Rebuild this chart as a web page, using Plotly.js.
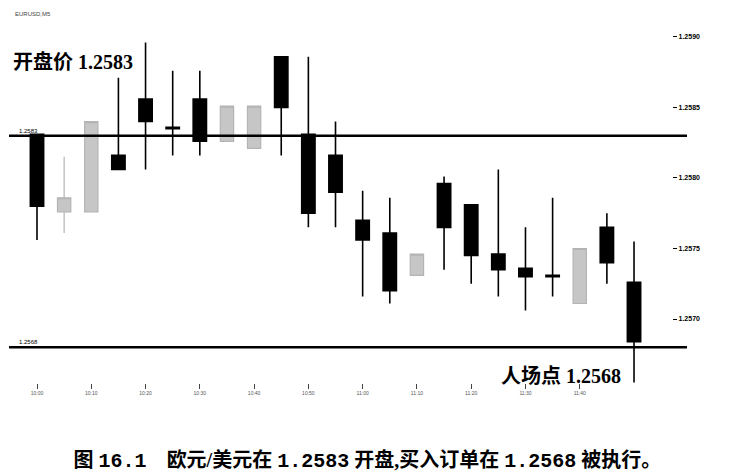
<!DOCTYPE html>
<html>
<head>
<meta charset="utf-8">
<script src="https://cdn.plot.ly/plotly-3.0.1.min.js"></script>
<style>
  html, body { margin: 0; padding: 0; background: #ffffff; }
  #chart { width: 729px; height: 476px; }
</style>
</head>
<body>
<div id="chart"></div>
<script>
// EUR/USD 5-minute bars
const barIndex = [1, 2, 3, 4, 5, 6, 7, 8, 9, 10, 11, 12, 13, 14, 15, 16, 17, 18, 19, 20, 21, 22, 23];
const opens  = [1.25831, 1.25776, 1.25776, 1.25816, 1.25856, 1.25836, 1.25856, 1.25826, 1.25821, 1.25886, 1.25831, 1.25816,
                1.25770, 1.25761, 1.25731, 1.25796, 1.25781, 1.25746, 1.25736, 1.25731, 1.25711, 1.25765, 1.25726];
const highs  = [1.25831, 1.25815, 1.25840, 1.25871, 1.25896, 1.25876, 1.25876, 1.25851, 1.25851, 1.25886, 1.25886, 1.25840,
                1.25791, 1.25786, 1.25746, 1.25801, 1.25781, 1.25806, 1.25765, 1.25786, 1.25750, 1.25775, 1.25755];
const lows   = [1.25756, 1.25761, 1.25776, 1.25806, 1.25806, 1.25816, 1.25816, 1.25826, 1.25821, 1.25816, 1.25765, 1.25765,
                1.25716, 1.25711, 1.25731, 1.25735, 1.25725, 1.25716, 1.25706, 1.25716, 1.25711, 1.25725, 1.25655];
const closes = [1.25780, 1.25786, 1.25840, 1.25806, 1.25840, 1.25835, 1.25826, 1.25851, 1.25851, 1.25850, 1.25775, 1.25790,
                1.25756, 1.25720, 1.25746, 1.25765, 1.25745, 1.25735, 1.25730, 1.25730, 1.25750, 1.25740, 1.25684];

const openPrice  = 1.2583;
const entryPrice = 1.2568;

const priceTicks = [1.2570, 1.2575, 1.2580, 1.2585, 1.2590];
const timeTicks  = [1, 3, 5, 7, 9, 11, 13, 15, 17, 19, 21];
const timeLabels = ['10:00', '10:10', '10:20', '10:30', '10:40', '10:50', '11:00', '11:10', '11:20', '11:30', '11:40'];

const serif = 'Liberation Serif, "Noto Sans CJK SC", serif';
const num = s => '<span style="font-family:Liberation Mono">' + s + '</span>';

const traces = [{
    type: 'candlestick',
    x: barIndex, open: opens, high: highs, low: lows, close: closes,
    increasing: { line: { color: '#b4b4b4', width: 1.2 }, fillcolor: '#c6c6c6' },
    decreasing: { line: { color: '#000000', width: 1.6 }, fillcolor: '#000000' },
    hoverinfo: 'skip', showlegend: false
}];

const layout = {
    width: 729, height: 476,
    margin: { l: 0, r: 0, t: 0, b: 0 },
    paper_bgcolor: '#ffffff', plot_bgcolor: '#ffffff',
    font: { family: 'Liberation Sans, sans-serif', color: '#000000' },
    showlegend: false, hovermode: false,
    boxgap: 0.3,
    title: {
        text: '图 ' + num('16.1') + '\u00a0\u00a0\u00a0\u00a0欧元/美元在 ' + num(openPrice.toFixed(4)) +
              ' 开盘,买入订单在 ' + num(entryPrice.toFixed(4)) + ' 被执行。',
        font: { family: serif, size: 20, color: '#000000', weight: 'bold' },
        x: 0.504, xanchor: 'center', y: 0.034, yanchor: 'middle', yref: 'container'
    },
    xaxis: {
        range: [-0.3635, 26.50], fixedrange: true,
        rangeslider: { visible: false },
        anchor: 'free', position: 0.195,
        showgrid: false, zeroline: false, showline: false,
        ticks: 'outside', ticklen: 5, tickwidth: 1, tickcolor: '#444444',
        tickmode: 'array', tickvals: timeTicks, ticktext: timeLabels,
        tickfont: { size: 5, color: '#555555' }
    },
    yaxis: {
        range: [1.255887, 1.259262], fixedrange: true,
        anchor: 'free', position: 0.922, side: 'right',
        showgrid: false, zeroline: false, showline: false,
        ticks: 'outside', ticklen: 4, tickwidth: 1, tickcolor: '#000000',
        tickmode: 'array', tickvals: priceTicks, tickformat: '.4f',
        tickfont: { size: 7, color: '#000000', weight: 'bold' }
    },
    shapes: [openPrice, entryPrice].map(p => ({
        type: 'line', xref: 'paper', yref: 'y',
        x0: 9 / 729, x1: 687 / 729, y0: p, y1: p,
        line: { color: '#000000', width: 2.6 }
    })),
    annotations: [
        { text: 'EURUSD,M5', xref: 'paper', yref: 'paper', x: 13 / 729, y: 1 - 14 / 476,
          xanchor: 'left', yanchor: 'middle', showarrow: false,
          font: { size: 6, color: '#444444' } },
        { text: openPrice.toFixed(4), xref: 'paper', yref: 'y', x: 17 / 729, y: openPrice,
          xanchor: 'left', yanchor: 'bottom', showarrow: false,
          font: { size: 6, color: '#000000' } },
        { text: entryPrice.toFixed(4), xref: 'paper', yref: 'y', x: 17 / 729, y: entryPrice,
          xanchor: 'left', yanchor: 'bottom', showarrow: false,
          font: { size: 6, color: '#000000' } },
        { text: '开盘价 ' + openPrice.toFixed(4), xref: 'paper', yref: 'paper',
          x: 11 / 729, y: 1 - 62 / 476, xanchor: 'left', yanchor: 'middle', showarrow: false,
          font: { family: serif, size: 20, color: '#000000', weight: 'bold' } },
        { text: '人场点 ' + entryPrice.toFixed(4), xref: 'paper', yref: 'paper',
          x: 623 / 729, y: 1 - 376 / 476, xanchor: 'right', yanchor: 'middle', showarrow: false,
          font: { family: serif, size: 20, color: '#000000', weight: 'bold' } }
    ]
};

Plotly.newPlot('chart', traces, layout, { displayModeBar: false, staticPlot: true });
</script>
</body>
</html>
